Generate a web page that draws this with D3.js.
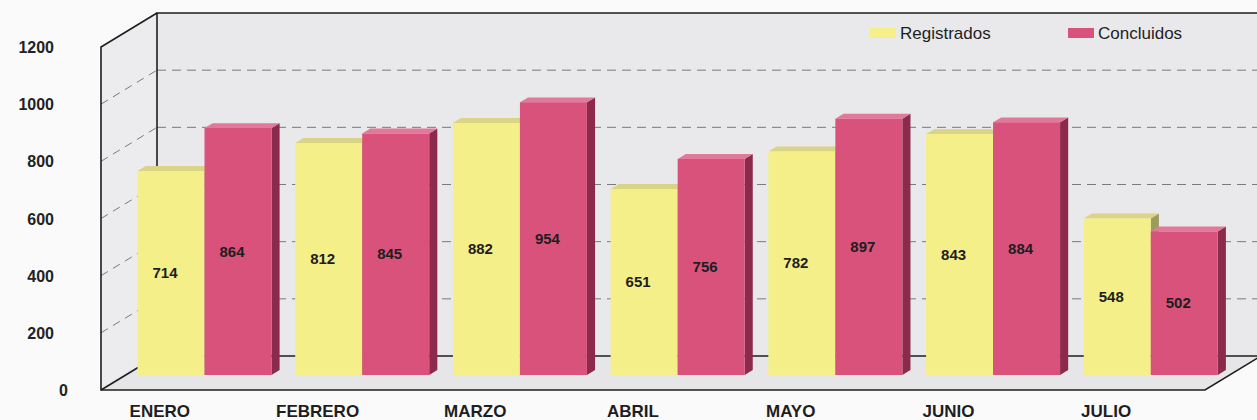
<!DOCTYPE html>
<html><head><meta charset="utf-8">
<script src="https://cdn.jsdelivr.net/npm/d3@7"></script>
<style>html,body{margin:0;padding:0;background:#fafafa;}svg{display:block;font-family:"Liberation Sans",Arial,sans-serif;}</style>
</head><body>
<script>
const categories = ["ENERO","FEBRERO","MARZO","ABRIL","MAYO","JUNIO","JULIO"];
const seriesNames = ["Registrados","Concluidos"];
const registrados = [714,812,882,651,782,843,548];
const concluidos = [864,845,954,756,897,884,502];
const yTicks = [0,200,400,600,800,1000,1200];

const W=1257,H=420;
const svg=d3.select("body").append("svg").attr("width",W).attr("height",H);

// front plane geometry
const x0=101, x1=1205, DX=56, DY=34;
const y=d3.scaleLinear().domain([0,1200]).range([390,47]);
const xBand=d3.scaleBand().domain(categories).range([x0,x1]).paddingInner(0).paddingOuter(0);
const sub=d3.scaleBand().domain(seriesNames).range([0,134]);
const P=(xf,v,f)=>[xf+f*DX, y(v)-f*DY];

// walls
const line=d3.line();
svg.append("path").attr("d",line([P(x0,0,1),P(1320,0,1),P(1320,1200,1),P(x0,1200,1)])+"Z").attr("fill","#e9e9ec");
svg.append("path").attr("d",line([P(x0,0,0),P(x0,0,1),P(x0,1200,1),P(x0,1200,0)])+"Z").attr("fill","#ececee");
svg.append("path").attr("d",line([P(x0,0,0),P(x0,0,1),P(x1,0,1),P(x1,0,0)])+"Z").attr("fill","#e6e6e9");

// gridlines
const grid=yTicks.filter(d=>d>0&&d<1200);
svg.selectAll(".gb").data(grid).join("line")
  .attr("x1",d=>P(x0,d,1)[0]).attr("y1",d=>P(x0,d,1)[1])
  .attr("x2",W).attr("y2",d=>P(x0,d,1)[1])
  .attr("stroke","#7a7a7a").attr("stroke-width",1).attr("stroke-dasharray","9,6");
svg.selectAll(".gs").data(grid).join("line")
  .attr("x1",d=>P(x0,d,0)[0]).attr("y1",d=>P(x0,d,0)[1])
  .attr("x2",d=>P(x0,d,1)[0]).attr("y2",d=>P(x0,d,1)[1])
  .attr("stroke","#7a7a7a").attr("stroke-width",1).attr("stroke-dasharray","8,6");

// frame lines
const frame=svg.append("g").attr("stroke","#1e1e1e").attr("stroke-width",1.6).attr("fill","none");
frame.append("path").attr("d",line([P(x0,0,1),P(x0,1200,1),P(1320,1200,1)]));
frame.append("path").attr("d",line([P(x0,0,1),P(1320,0,1)]));
frame.append("path").attr("d",line([P(x0,1200,1),P(x0,1200,0),P(x0,0,0),P(x1,0,0),P(x1,0,1)]));
frame.append("path").attr("d",line([P(x0,0,0),P(x0,0,1)]));

// bars
const f1=0.44, f2=0.585;
const colors={Registrados:{front:"#f4ef88",top:"#d9d486",side:"#9b9d5c"},
              Concluidos:{front:"#d9527c",top:"#e2789a",side:"#8c2a4c"}};
const data=[];
categories.forEach((c,i)=>{
  data.push({cat:c,s:"Registrados",v:registrados[i]});
  data.push({cat:c,s:"Concluidos",v:concluidos[i]});
});
const bars=svg.append("g");
data.forEach(d=>{
  const gx=xBand(d.cat)+(xBand.bandwidth()-134)/2;
  const xl=gx+sub(d.s), xr=xl+sub.bandwidth();
  const col=colors[d.s];
  const g=bars.append("g");
  g.append("path").attr("d",line([P(xr,0,f1),P(xr,0,f2),P(xr,d.v,f2),P(xr,d.v,f1)])+"Z").attr("fill",col.side);
  g.append("path").attr("d",line([P(xl,d.v,f1),P(xl,d.v,f2),P(xr,d.v,f2),P(xr,d.v,f1)])+"Z").attr("fill",col.top);
  g.append("path").attr("d",line([P(xl,0,f1),P(xl,d.v,f1),P(xr,d.v,f1),P(xr,0,f1)])+"Z").attr("fill",col.front);
  const cx=(P(xl,0,f1)[0]+P(xr,0,f1)[0])/2-6;
  const cy=(P(xl,0,f1)[1]+P(xl,d.v,f1)[1])/2+5;
  g.append("text").attr("x",cx).attr("y",cy).attr("text-anchor","middle")
   .attr("font-size",15).attr("font-weight","bold").attr("fill","#1e1e1e").text(d.v);
});

// y axis labels
svg.selectAll(".yl").data(yTicks).join("text")
  .attr("x",d=>d===0?68:54).attr("y",d=>y(d)+6).attr("text-anchor","end")
  .attr("font-size",16).attr("font-weight","bold").attr("fill","#222").text(d=>d);

// category labels
svg.selectAll(".cl").data(categories).join("text")
  .attr("x",d=>xBand(d)+xBand.bandwidth()/2-20).attr("y",417).attr("text-anchor","middle")
  .attr("font-size",17).attr("font-weight","bold").attr("fill","#1e1e1e").text(d=>d);

// legend
const lx=d3.scalePoint().domain(seriesNames).range([870,1068]);
const lg=svg.selectAll(".lg").data(seriesNames).join("g").attr("transform",d=>`translate(${lx(d)},0)`);
lg.append("rect").attr("x",0).attr("y",28).attr("width",26).attr("height",10).attr("fill",d=>colors[d].front);
lg.append("text").attr("x",30).attr("y",39).attr("font-size",17).attr("fill","#1e1e1e").text(d=>d);
</script>
</body></html>
